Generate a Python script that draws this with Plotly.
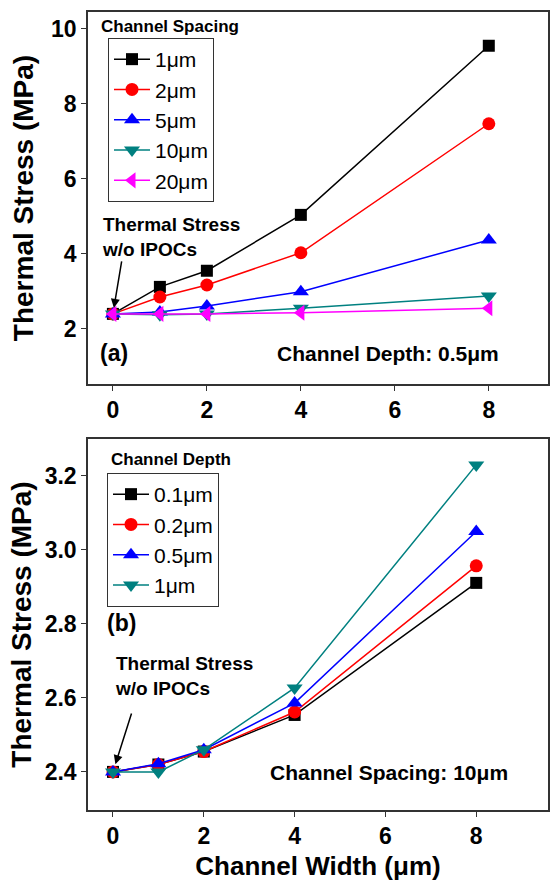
import plotly.graph_objects as go

# ---------------- data ----------------
width_a = [0, 1, 2, 4, 8]
spacing_labels = ["1μm", "2μm", "5μm", "10μm", "20μm"]
stress_1um = [2.40, 3.12, 3.55, 5.04, 9.55]
stress_2um = [2.40, 2.85, 3.17, 4.03, 7.47]
stress_5um = [2.40, 2.45, 2.61, 2.99, 4.37]
stress_10um = [2.40, 2.38, 2.40, 2.55, 2.88]
stress_20um = [2.40, 2.40, 2.40, 2.43, 2.55]

width_b = [0, 1, 2, 4, 8]
depth_labels = ["0.1μm", "0.2μm", "0.5μm", "1μm"]
stress_d01 = [2.400, 2.420, 2.455, 2.554, 2.911]
stress_d02 = [2.400, 2.420, 2.455, 2.562, 2.957]
stress_d05 = [2.400, 2.422, 2.460, 2.586, 3.050]
stress_d1 = [2.400, 2.400, 2.460, 2.627, 3.230]

colors = ["#000000", "#FF0000", "#0000FF", "#008080", "#FF00FF"]
symbols = ["square", "circle", "triangle-up", "triangle-down", "triangle-left"]
msizes = [12, 13, 14, 14, 14]

FONT = "Arial, Liberation Sans, sans-serif"
W, H = 550, 885

fig = go.Figure()

series_a = [stress_1um, stress_2um, stress_5um, stress_10um, stress_20um]
for i, (lab, ys) in enumerate(zip(spacing_labels, series_a)):
    fig.add_trace(go.Scatter(
        x=width_a, y=ys, name=lab, mode="lines+markers",
        line=dict(color=colors[i], width=1.5),
        marker=dict(symbol=symbols[i], size=msizes[i], color=colors[i]),
        xaxis="x", yaxis="y", legend="legend", legendgroup="a%d" % i,
    ))

series_b = [stress_d01, stress_d02, stress_d05, stress_d1]
for i, (lab, ys) in enumerate(zip(depth_labels, series_b)):
    fig.add_trace(go.Scatter(
        x=width_b, y=ys, name=lab, mode="lines+markers",
        line=dict(color=colors[i], width=1.5),
        marker=dict(symbol=symbols[i], size=msizes[i], color=colors[i]),
        xaxis="x2", yaxis="y2", legend="legend2", legendgroup="b%d" % i,
    ))

def px_x(p):
    return p / W

def px_y(p):
    return 1 - p / H

xdom = [px_x(88), px_x(548)]
axis_common = dict(
    showgrid=False, zeroline=False, showline=True, mirror=True,
    linecolor="#333333", linewidth=1.5, ticks="outside", ticklen=5,
    tickwidth=1.2, tickcolor="#333333",
    tickfont=dict(family=FONT, size=23, color="black", weight="bold"),
)
ytitle_font = dict(family=FONT, size=28, color="black", weight="bold")
xtitle_font = dict(family=FONT, size=26, color="black", weight="bold")

fig.update_layout(
    width=W, height=H, margin=dict(l=0, r=0, t=0, b=0),
    paper_bgcolor="white", plot_bgcolor="white",
    font=dict(family=FONT, color="black"),
    xaxis=dict(domain=xdom, anchor="y", range=[-0.53, 9.26],
               tickvals=[0, 2, 4, 6, 8], **axis_common),
    yaxis=dict(domain=[px_y(384), px_y(12)], anchor="x", range=[0.53, 10.45],
               tickvals=[2, 4, 6, 8, 10],
               title=dict(text="Thermal Stress (MPa)", standoff=9,
                          font=ytitle_font),
               **axis_common),
    xaxis2=dict(domain=xdom, anchor="y2", range=[-0.55, 9.58],
                tickvals=[0, 2, 4, 6, 8],
                title=dict(text="Channel Width (μm)", standoff=8,
                           font=xtitle_font),
                **axis_common),
    yaxis2=dict(domain=[px_y(810), px_y(439)], anchor="x2", range=[2.297, 3.3],
                tickvals=[2.4, 2.6, 2.8, 3.0, 3.2], tickformat=".1f",
                title=dict(text="Thermal Stress (MPa)", standoff=5,
                           font=ytitle_font),
                **axis_common),
    legend=dict(x=px_x(108), y=px_y(38), xanchor="left", yanchor="top",
                bordercolor="#333333", borderwidth=1, bgcolor="white",
                font=dict(family=FONT, size=21), tracegroupgap=0,
                itemwidth=36),
    legend2=dict(x=px_x(107), y=px_y(473), xanchor="left", yanchor="top",
                 bordercolor="#333333", borderwidth=1, bgcolor="white",
                 font=dict(family=FONT, size=21), tracegroupgap=0,
                 itemwidth=36),
    showlegend=True,
)

bold = lambda s: dict(family=FONT, size=s, color="black", weight="bold")
ann = []
# legend titles
ann.append(dict(text="Channel Spacing", xref="paper", yref="paper",
                x=px_x(99), y=px_y(26), xanchor="left", yanchor="middle",
                showarrow=False, font=bold(17)))
ann.append(dict(text="Channel Depth", xref="paper", yref="paper",
                x=px_x(109), y=px_y(459), xanchor="left", yanchor="middle",
                showarrow=False, font=bold(17)))
# panel (a)
ann.append(dict(text="Thermal Stress<br>w/o IPOCs", xref="paper", yref="paper",
                x=px_x(100), y=px_y(237), xanchor="left", yanchor="middle",
                align="left", showarrow=False, font=bold(19)))
ann.append(dict(text="", x=0, y=2.4, xref="x", yref="y", showarrow=True,
                ax=9, ay=-54, arrowhead=2, arrowsize=1.2, arrowwidth=1.5,
                arrowcolor="black", standoff=6))
ann.append(dict(text="(a)", xref="paper", yref="paper", x=px_x(98), y=px_y(353),
                xanchor="left", yanchor="middle", showarrow=False, font=bold(23)))
ann.append(dict(text="Channel Depth: 0.5μm", xref="paper", yref="paper",
                x=px_x(501), y=px_y(353), xanchor="right", yanchor="middle",
                showarrow=False, font=bold(21)))
# panel (b)
ann.append(dict(text="Thermal Stress<br>w/o IPOCs", xref="paper", yref="paper",
                x=px_x(113), y=px_y(676), xanchor="left", yanchor="middle",
                align="left", showarrow=False, font=bold(19)))
ann.append(dict(text="", x=0, y=2.4, xref="x2", yref="y2", showarrow=True,
                ax=19, ay=-60, arrowhead=2, arrowsize=1.2, arrowwidth=1.5,
                arrowcolor="black", standoff=8))
ann.append(dict(text="(b)", xref="paper", yref="paper", x=px_x(105), y=px_y(623),
                xanchor="left", yanchor="middle", showarrow=False, font=bold(23)))
ann.append(dict(text="Channel Spacing: 10μm", xref="paper", yref="paper",
                x=px_x(510), y=px_y(772), xanchor="right", yanchor="middle",
                showarrow=False, font=bold(21)))
fig.update_layout(annotations=ann)

fig.write_html("out.html")
